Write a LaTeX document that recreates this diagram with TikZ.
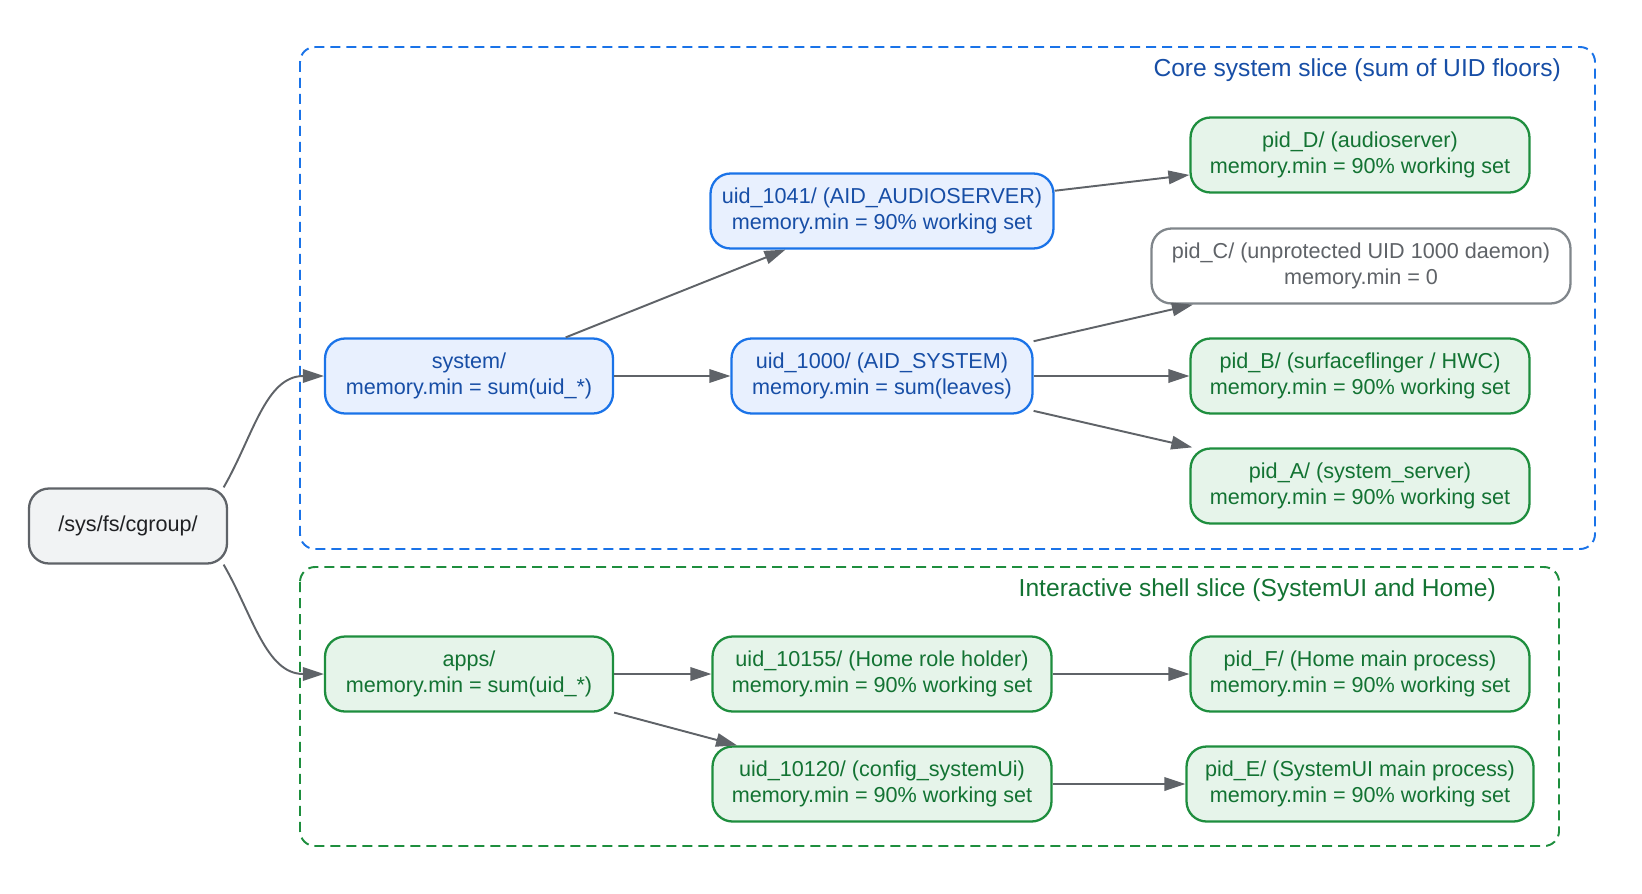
\documentclass[tikz,border=0pt]{standalone}
\usepackage{fontspec}
\setmainfont{Liberation Sans}
\usetikzlibrary{arrows.meta}

\definecolor{coreline}{HTML}{1A73E8}
\definecolor{corefill}{HTML}{E8F0FE}
\definecolor{coretext}{HTML}{174EA6}
\definecolor{shellline}{HTML}{1E8E3E}
\definecolor{shellfill}{HTML}{E6F4EA}
\definecolor{shelltext}{HTML}{137333}
\definecolor{greyline}{HTML}{80868B}
\definecolor{greytext}{HTML}{5F6368}
\definecolor{rootfill}{HTML}{F1F3F4}
\definecolor{roottext}{HTML}{202124}

\begin{document}
\begin{tikzpicture}[x=0.02cm, y=-0.02cm,
    box/.style={draw, rounded corners=0.4cm, line width=1.3pt, minimum height=1.5cm, align=center, font=\fontsize{12.3}{15}\selectfont},
    corebox/.style={box, draw=coreline, fill=corefill, text=coretext},
    shellbox/.style={box, draw=shellline, fill=shellfill, text=shelltext},
    greybox/.style={box, draw=greyline, fill=white, text=greytext},
    rootbox/.style={box, draw=greytext, fill=rootfill, text=roottext},
    arr/.style={draw=greytext, line width=1.1pt, -{Triangle[length=0.42cm,width=0.27cm]}},
    slice/.style={dashed, dash pattern=on 0.2cm off 0.12cm, line width=1.1pt, rounded corners=0.3cm},
    slicelabel/.style={anchor=east, font=\fontsize{14}{16}\selectfont}]
    \useasboundingbox (0,0) rectangle (1642,893);
    % slices
    \draw[slice, coreline] (300,47) rectangle (1595,549);
    \node[slicelabel, text=coretext] (corelabel) at (1567,70) {Core system slice (sum of UID floors)};
    \draw[slice, shellline] (300,567) rectangle (1559,846);
    \node[slicelabel, text=shelltext] (shelllabel) at (1502,590) {Interactive shell slice (SystemUI and Home)};
    % root
    \node[rootbox, minimum width=3.96cm] (root) at (128,526) {/sys/fs/cgroup/};
    % core
    \node[corebox, minimum width=5.76cm] (system) at (469,376) {system/\\memory.min = sum(uid\_*)};
    \node[corebox, minimum width=6.86cm] (uid1041) at (882,211) {uid\_1041/ (AID\_AUDIOSERVER)\\memory.min = 90\% working set};
    \node[corebox, minimum width=6.02cm] (uid1000) at (882,376) {uid\_1000/ (AID\_SYSTEM)\\memory.min = sum(leaves)};
    \node[shellbox, minimum width=6.78cm] (pidD) at (1360,155) {pid\_D/ (audioserver)\\memory.min = 90\% working set};
    \node[greybox, minimum width=8.38cm] (pidC) at (1361,266) {pid\_C/ (unprotected UID 1000 daemon)\\memory.min = 0};
    \node[shellbox, minimum width=6.78cm] (pidB) at (1360,376) {pid\_B/ (surfaceflinger / HWC)\\memory.min = 90\% working set};
    \node[shellbox, minimum width=6.78cm] (pidA) at (1360,486) {pid\_A/ (system\_server)\\memory.min = 90\% working set};
    % shell
    \node[shellbox, minimum width=5.76cm] (apps) at (469,674) {apps/\\memory.min = sum(uid\_*)};
    \node[shellbox, minimum width=6.78cm] (uid10155) at (882,674) {uid\_10155/ (Home role holder)\\memory.min = 90\% working set};
    \node[shellbox, minimum width=6.78cm] (uid10120) at (882,784) {uid\_10120/ (config\_systemUi)\\memory.min = 90\% working set};
    \node[shellbox, minimum width=6.78cm] (pidF) at (1360,674) {pid\_F/ (Home main process)\\memory.min = 90\% working set};
    \node[shellbox, minimum width=6.94cm] (pidE) at (1360,784) {pid\_E/ (SystemUI main process)\\memory.min = 90\% working set};
    % edges
    \draw[arr] (root.22) to[out=60, in=180] (system.west);
    \draw[arr] (root.-22) to[out=-60, in=180] (apps.west);
    \draw[arr] (system) -- (uid1041);
    \draw[arr] (system) -- (uid1000);
    \draw[arr] (uid1041) -- (pidD);
    \draw[arr] (uid1000) -- (pidC);
    \draw[arr] (uid1000) -- (pidB);
    \draw[arr] (uid1000) -- (pidA);
    \draw[arr] (apps) -- (uid10155);
    \draw[arr] (apps) -- (uid10120);
    \draw[arr] (uid10155) -- (pidF);
    \draw[arr] (uid10120) -- (pidE);
\end{tikzpicture}
\end{document}
